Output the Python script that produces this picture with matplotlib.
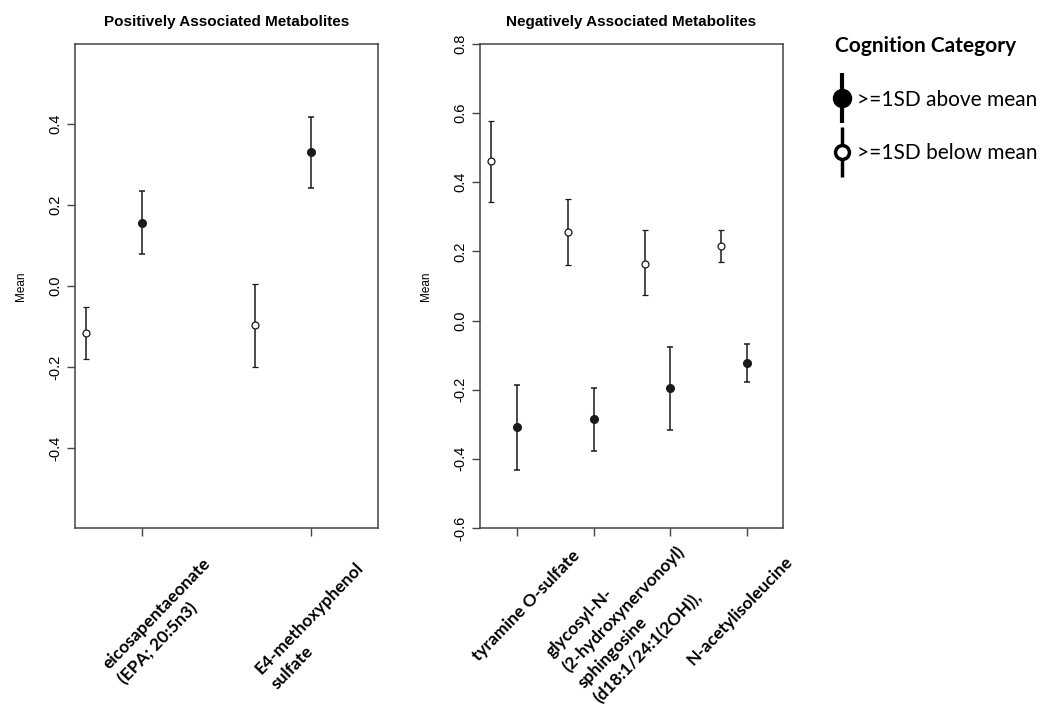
import matplotlib
matplotlib.use("Agg")
import matplotlib.pyplot as plt
from matplotlib.lines import Line2D
from matplotlib.legend_handler import HandlerTuple


# Positively associated metabolites (left panel)
pos_labels = ["eicosapentaeonate\n(EPA; 20:5n3)", "E4-methoxyphenol\nsulfate"]
pos_above_mean = [0.156, 0.330]
pos_above_lo = [0.079, 0.242]
pos_above_hi = [0.235, 0.417]
pos_below_mean = [-0.117, -0.096]
pos_below_lo = [-0.180, -0.200]
pos_below_hi = [-0.053, 0.005]

# Negatively associated metabolites (right panel)
neg_labels = ["tyramine O-sulfate",
              "glycosyl-N-\n(2-hydroxynervonoyl)\nsphingosine\n(d18:1/24:1(2OH)),",
              "",
              "N-acetylisoleucine"]
neg_above_mean = [-0.308, -0.286, -0.196, -0.122]
neg_above_lo = [-0.431, -0.378, -0.316, -0.177]
neg_above_hi = [-0.185, -0.195, -0.077, -0.067]
neg_below_mean = [0.461, 0.256, 0.165, 0.216]
neg_below_lo = [0.343, 0.162, 0.073, 0.170]
neg_below_hi = [0.578, 0.351, 0.261, 0.263]

pos_yticks = [-0.4, -0.2, 0.0, 0.2, 0.4]
neg_yticks = [-0.6, -0.4, -0.2, 0.0, 0.2, 0.4, 0.6, 0.8]

legend_title = "Cognition Category"
legend_labels = [">=1SD above mean", ">=1SD below mean"]

# label anchor offsets in pixels from (tick, axis bottom)
pos_label_off = [(60, -27), (44, -31)]
neg_label_off = [(54, -19), (66, 0), (0, 0), (37, -25)]

plt.rcParams['font.family'] = ['Liberation Sans', 'DejaVu Sans']
LABEL_FONT = 'Lato'
INK = '#1a1a1a'
SPINE = '#444444'

fig = plt.figure(figsize=(10.5, 7.22), dpi=100)
ax1 = fig.add_axes([75 / 1050, 1 - 528 / 722, 303 / 1050, 484 / 722])
ax2 = fig.add_axes([480 / 1050, 1 - 528 / 722, 303 / 1050, 484 / 722])


def err(mean, lo, hi):
    return [[m - l for m, l in zip(mean, lo)], [h - m for m, h in zip(mean, hi)]]


def panel(ax, title, labels, a_mean, a_lo, a_hi, b_mean, b_lo, b_hi, yticks, ylim, xlim, offsets):
    x = list(range(1, len(labels) + 1))
    xb = [i - 1 / 3 for i in x]
    ax.errorbar(x, a_mean, yerr=err(a_mean, a_lo, a_hi), fmt='o', ms=5.5, color=INK,
                ecolor=INK, elinewidth=1.1, capsize=2.5, capthick=1.1)
    ax.errorbar(xb, b_mean, yerr=err(b_mean, b_lo, b_hi), fmt='o', ms=5, mfc='white',
                mec=INK, mew=0.9, ecolor=INK, elinewidth=1.1, capsize=2.5, capthick=1.1)
    ax.set_xlim(*xlim)
    ax.set_ylim(*ylim)
    ax.set_xticks(x)
    ax.set_xticklabels([])
    ax.set_yticks(yticks)
    ax.set_yticklabels([f"{v:.1f}" for v in yticks], fontsize=10.5)
    for t in ax.get_yticklabels():
        t.set_rotation(90)
        t.set_va('center')
    ax.tick_params(length=5.8, width=1, color=SPINE, pad=3.5)
    for s in ax.spines.values():
        s.set_color(SPINE)
        s.set_linewidth(1.1)
    ax.set_ylabel("Mean", fontsize=8.5, labelpad=15)
    ax.set_title(title, fontsize=11, fontweight='bold', pad=13)
    for i, lab, (dx, dy) in zip(x, labels, offsets):
        if not lab:
            continue
        ax.annotate(lab, xy=(i, 0), xycoords=('data', 'axes fraction'),
                    xytext=(dx, dy), textcoords='offset pixels',
                    rotation=46, rotation_mode='anchor', ha='right', va='top',
                    multialignment='left', fontsize=12.5, fontweight='bold',
                    family=LABEL_FONT, linespacing=1.45, annotation_clip=False)


panel(ax1, "Positively Associated Metabolites", pos_labels,
      pos_above_mean, pos_above_lo, pos_above_hi,
      pos_below_mean, pos_below_lo, pos_below_hi,
      pos_yticks, (-0.597, 0.597), (0.604, 2.396), pos_label_off)
panel(ax2, "Negatively Associated Metabolites", neg_labels,
      neg_above_mean, neg_above_lo, neg_above_hi,
      neg_below_mean, neg_below_lo, neg_below_hi,
      neg_yticks, (-0.6, 0.8), (0.517, 4.47), neg_label_off)

# legend: big marker with vertical line through it
h_above = (Line2D([], [], marker='|', ms=36, mew=3, color='black', ls='none'),
           Line2D([], [], marker='o', ms=13, color='black', ls='none'))
h_below = (Line2D([], [], marker='|', ms=36, mew=2.5, color='black', ls='none'),
           Line2D([], [], marker='o', ms=10, mfc='white', mec='black', mew=2.5, ls='none'))
leg = fig.legend([h_above, h_below], legend_labels, title=legend_title,
                 handler_map={tuple: HandlerTuple(ndivide=1, pad=0)},
                 loc='upper left', bbox_to_anchor=(825 / 1050, 1 - 26 / 722),
                 frameon=False, prop={'family': LABEL_FONT, 'size': 15},
                 handlelength=0.6, handletextpad=0.45, labelspacing=1.6,
                 borderpad=0, alignment='left')
leg.get_title().set_fontsize(15)
leg.get_title().set_fontweight('bold')
leg.get_title().set_family(LABEL_FONT)

fig.savefig("out.png", dpi=100)
